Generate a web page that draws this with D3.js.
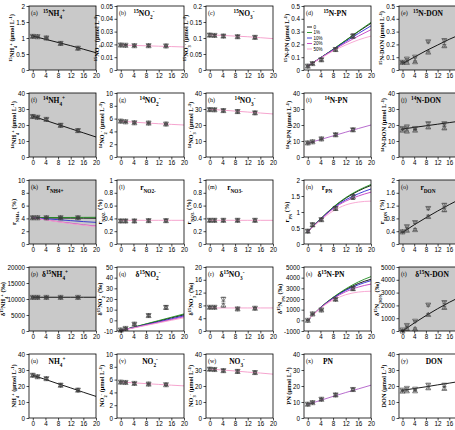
<!DOCTYPE html>
<html>
<head>
<meta charset="utf-8">
<script src="https://cdn.jsdelivr.net/npm/d3@7"></script>
<style>
  body { margin: 0; background: #fff; }
  text { fill: #000; }
</style>
</head>
<body>
<svg width="455" height="430"></svg>
<script>
// sampling times (h) and times at which model curves were read
const sampleTimes = [0, 1.5, 4.3, 8.8, 14.3];
const modelTimes = [0, 4, 8, 12, 16, 20];
const xTicks = [0, 4, 8, 12, 16, 20];
const scenarioNames = ["0", "1%", "10%", "20%", "50%"];

// y tick sets
const ticks2 = [0, 0.5, 1, 1.5, 2];
const ticks005 = [0, 0.01, 0.02, 0.03, 0.04, 0.05];
const ticks02 = [0, 0.05, 0.1, 0.15, 0.2];
const ticks05 = [0, 0.1, 0.2, 0.3, 0.4, 0.5];
const ticks40 = [0, 10, 20, 30, 40];
const ticks10 = [0, 2, 4, 6, 8, 10];
const ticks1 = [0, 0.2, 0.4, 0.6, 0.8, 1];
const ticks2b = [0, 0.4, 0.8, 1.2, 1.6, 2];
const ticks20000 = [0, 5000, 10000, 15000, 20000];
const ticks50 = [-10, 0, 10, 20, 30, 40, 50];
const ticks20 = [0, 4, 8, 12, 16, 20];
const ticks5000s = [-1000, 0, 1000, 2000, 3000, 4000, 5000];
const ticks5000 = [0, 1000, 2000, 3000, 4000, 5000];

// row 1: 15N pools
const aObs = [1.05, 1.04, 1.0, 0.83, 0.68];
const aErr = [0.03, 0.02, 0.03, 0.04, 0.03];
const aFit = [1.06, 0.96, 0.86, 0.76, 0.65, 0.54];
const bObs = [0.0195, 0.0193, 0.019, 0.019, 0.0188];
const bErr = [0.0008, 0.0006, 0.0007, 0.0008, 0.0008];
const bFit = [0.0196, 0.0192, 0.0189, 0.0186, 0.0183, 0.018];
const cObs = [0.109, 0.108, 0.106, 0.104, 0.102];
const cErr = [0.004, 0.003, 0.004, 0.004, 0.004];
const cFit = [0.11, 0.108, 0.106, 0.104, 0.101, 0.098];
const dObs = [0.03, 0.05, 0.08, 0.16, 0.265];
const dErr = [0.008, 0.008, 0.01, 0.012, 0.015];
const dFits = [
  [0.03, 0.095, 0.16, 0.23, 0.3, 0.365],
  [0.03, 0.095, 0.162, 0.232, 0.303, 0.372],
  [0.03, 0.094, 0.158, 0.222, 0.285, 0.345],
  [0.03, 0.093, 0.155, 0.212, 0.265, 0.315],
  [0.03, 0.091, 0.148, 0.195, 0.235, 0.265]
];
const eUp = [0.06, 0.06, 0.065, 0.14, 0.19];
const eDown = [0.06, 0.085, 0.1, 0.22, 0.23];
const eErr = [0.005, 0.006, 0.006, 0.008, 0.01];
const eFit = [0.05, 0.1, 0.15, 0.195, 0.24, 0.28];

// row 2: 14N pools
const fObs = [25.3, 24.8, 23.5, 19.8, 16.5];
const fErr = [0.8, 0.6, 0.7, 0.9, 0.8];
const fFit = [25.5, 22.9, 20.3, 17.7, 15.1, 12.5];
const gObs = [5.6, 5.5, 5.35, 5.3, 5.15];
const gErr = [0.15, 0.12, 0.15, 0.15, 0.15];
const gFit = [5.6, 5.45, 5.32, 5.2, 5.1, 5.0];
const hObs = [29.6, 29.5, 29.0, 28.4, 27.6];
const hErr = [0.8, 0.7, 0.8, 0.9, 0.8];
const hFit = [29.8, 29.3, 28.7, 28.1, 27.5, 26.9];
const iObs = [8.8, 9.5, 11.3, 13.9, 17.0];
const iErr = [0.6, 0.5, 0.6, 0.8, 0.8];
const iFit = [8.6, 10.9, 13.2, 15.5, 17.8, 20.0];
const jUp = [16.8, 16.2, 16.8, 18.8, 18.2];
const jDown = [17.8, 18.8, 17.8, 20.8, 20.8];
const jErr = [0.6, 0.6, 0.6, 0.8, 0.8];
const jFit = [17.5, 18.5, 19.5, 20.5, 21.5, 22.5];

// row 3: atom % excess
const kObs = [4.1, 4.1, 4.1, 4.1, 4.1];
const kErr = [0.15, 0.12, 0.15, 0.15, 0.15];
const kFits = [
  [4.1, 4.08, 4.06, 4.05, 4.04, 4.03],
  [4.1, 4.12, 4.14, 4.15, 4.16, 4.17],
  [4.1, 3.95, 3.8, 3.65, 3.5, 3.38],
  [4.1, 3.8, 3.5, 3.25, 3.0, 2.8],
  [4.1, 3.78, 3.46, 3.18, 2.93, 2.72]
];
const lObs = [0.36, 0.36, 0.36, 0.365, 0.365];
const lErr = [0.02, 0.02, 0.02, 0.02, 0.02];
const lFit = [0.37, 0.37, 0.37, 0.37, 0.37, 0.37];
const mObs = [0.37, 0.37, 0.37, 0.37, 0.37];
const mErr = [0.02, 0.02, 0.02, 0.02, 0.02];
const mFit = [0.37, 0.37, 0.37, 0.37, 0.37, 0.37];
const nObs = [0.4, 0.6, 0.76, 1.11, 1.47];
const nErr = [0.04, 0.05, 0.04, 0.05, 0.07];
const nFits = [
  [0.38, 0.78, 1.14, 1.43, 1.66, 1.83],
  [0.38, 0.78, 1.15, 1.45, 1.68, 1.86],
  [0.38, 0.77, 1.12, 1.38, 1.57, 1.72],
  [0.38, 0.76, 1.1, 1.34, 1.5, 1.62],
  [0.38, 0.74, 1.03, 1.22, 1.31, 1.34]
];
const oUp = [0.38, 0.43, 0.45, 0.86, 1.07];
const oDown = [0.38, 0.54, 0.67, 1.11, 1.21];
const oErr = [0.02, 0.03, 0.03, 0.04, 0.05];
const oFit = [0.36, 0.6, 0.82, 1.03, 1.23, 1.42];

// row 4: delta 15N
const pObs = [10500, 10500, 10500, 10500, 10500];
const pErr = [250, 250, 250, 250, 250];
const pFit = [10550, 10550, 10550, 10550, 10550, 10550];
const qObs = [-9.1, -7.6, -3.6, 4.5, 12.1];
const qErr = [0.8, 0.8, 1, 1.2, 1.5];
const qFits = [
  [-9.5, -6.6, -3.6, -0.7, 2.3, 5.2],
  [-9.5, -6.4, -3.3, -0.2, 2.9, 6.0],
  [-9.5, -6.8, -4.1, -1.4, 1.4, 4.2],
  [-9.5, -7.0, -4.4, -1.9, 0.7, 3.3],
  [-9.5, -7.2, -4.8, -2.4, 0.0, 2.4]
];
const rUp = [7.4, 7.4, 8.1, 6.9, 7.1];
const rDown = [7.4, 7.4, 9.9, 6.9, 7.1];
const rErr = [0.3, 0.3, 0.6, 0.3, 0.3];
const rFit = [7.2, 7.2, 7.2, 7.2, 7.2, 7.2];
const sObs = [0, 600, 970, 1970, 2970];
const sErr = [60, 80, 80, 100, 150];
const sFits = [
  [0, 1200, 2120, 2880, 3450, 3850],
  [0, 1200, 2150, 2950, 3600, 4100],
  [0, 1180, 2080, 2800, 3330, 3720],
  [0, 1160, 2030, 2680, 3120, 3400],
  [0, 1120, 1900, 2400, 2650, 2730]
];
const tUp = [0, 200, 180, 1290, 1840];
const tDown = [75, 430, 760, 2020, 2220];
const tErr = [50, 60, 60, 80, 100];
const tFit = [0, 620, 1200, 1740, 2240, 2700];

// row 5: total pools
const uObs = [26.7, 25.8, 24.6, 20.5, 17.4];
const uErr = [0.8, 0.6, 0.7, 0.9, 0.8];
const uFit = [26.7, 24.1, 21.4, 18.8, 16.1, 13.5];
const vObs = [5.6, 5.55, 5.4, 5.3, 5.2];
const vErr = [0.15, 0.12, 0.15, 0.15, 0.15];
const vFit = [5.62, 5.5, 5.37, 5.25, 5.13, 5.02];
const wObs = [30.5, 30.3, 29.6, 29.1, 28.4];
const wErr = [0.8, 0.7, 0.8, 0.9, 0.8];
const wFit = [30.6, 30.0, 29.4, 28.7, 28.1, 27.4];
const xObs = [8.6, 9.6, 11.7, 14.4, 17.8];
const xErr = [0.6, 0.5, 0.6, 0.8, 0.8];
const xFit = [8.5, 11.0, 13.5, 15.9, 18.2, 20.5];
const yUp = [16.8, 17.0, 17.0, 18.9, 18.5];
const yDown = [17.4, 18.5, 18.0, 20.5, 20.5];
const yErr = [0.6, 0.6, 0.6, 0.8, 0.8];
const yFit = [17.3, 18.4, 19.5, 20.7, 21.8, 23.0];

// styling
const scenarioColors = ["#000000", "#1e8c1e", "#2a2ad0", "#c23bc2", "#f7a1cf"];
const pink = "#f49ac8", purple = "#b05cc8", black = "#000000";
const grayFill = "#c9c9c9";
const colLeft = [29, 117, 206, 304, 399];
const colWidth = [67, 67, 67, 67, 62];
const rowTop = [6, 93, 180, 267, 354];
const titleOffset = [25, 27, 38, 31, 29, 25, 33, 39, 32, 27, 26, 31, 29, 23, 29, 26, 31, 26, 27, 33, 28, 33, 31, 24, 35];
const ph = 64;

const single = (v, c) => [{ v, c }];
const multi = (fits) => fits.map((v, k) => ({ v, c: scenarioColors[k] }));

const panels = [
  { id: "a", title: "^{15}NH_{4}^{+}", ylab: "^{15}NH_{4}^{+} (μmol L^{-1})", ticks: ticks2, gray: true, up: aObs, down: aObs, err: aErr, lines: single(aFit, black) },
  { id: "b", title: "^{15}NO_{2}^{-}", ylab: "^{15}NO_{2}^{-} (μmol L^{-1})", ticks: ticks005, up: bObs, down: bObs, err: bErr, lines: single(bFit, pink) },
  { id: "c", title: "^{15}NO_{3}^{-}", ylab: "^{15}NO_{3}^{-} (μmol L^{-1})", ticks: ticks02, up: cObs, down: cObs, err: cErr, lines: single(cFit, pink) },
  { id: "d", title: "^{15}N-PN", ylab: "^{15}N-PN (μmol L^{-1})", ticks: ticks05, up: dObs, down: dObs, err: dErr, lines: multi(dFits), legend: true },
  { id: "e", title: "^{15}N-DON", ylab: "^{15}N-DON (μmol L^{-1})", ticks: ticks05, gray: true, up: eUp, down: eDown, err: eErr, lines: single(eFit, black) },
  { id: "f", title: "^{14}NH_{4}^{+}", ylab: "^{14}NH_{4}^{+} (μmol L^{-1})", ticks: ticks40, gray: true, up: fObs, down: fObs, err: fErr, lines: single(fFit, black) },
  { id: "g", title: "^{14}NO_{2}^{-}", ylab: "^{14}NO_{2}^{-} (μmol L^{-1})", ticks: ticks10, up: gObs, down: gObs, err: gErr, lines: single(gFit, pink) },
  { id: "h", title: "^{14}NO_{3}^{-}", ylab: "^{14}NO_{3}^{-} (μmol L^{-1})", ticks: ticks40, up: hObs, down: hObs, err: hErr, lines: single(hFit, pink) },
  { id: "i", title: "^{14}N-PN", ylab: "^{14}N-PN (μmol L^{-1})", ticks: ticks40, up: iObs, down: iObs, err: iErr, lines: single(iFit, purple) },
  { id: "j", title: "^{14}N-DON", ylab: "^{14}N-DON (μmol L^{-1})", ticks: ticks40, gray: true, up: jUp, down: jDown, err: jErr, lines: single(jFit, black) },
  { id: "k", title: "r_{NH4+}", ylab: "r_{NH4+} (%)", ticks: ticks10, gray: true, up: kObs, down: kObs, err: kErr, lines: multi(kFits) },
  { id: "l", title: "r_{NO2-}", ylab: "r_{NO2-} (%)", ticks: ticks1, up: lObs, down: lObs, err: lErr, lines: single(lFit, pink) },
  { id: "m", title: "r_{NO3-}", ylab: "r_{NO3-} (%)", ticks: ticks1, up: mObs, down: mObs, err: mErr, lines: single(mFit, pink) },
  { id: "n", title: "r_{PN}", ylab: "r_{PN} (%)", ticks: ticks2, up: nObs, down: nObs, err: nErr, lines: multi(nFits) },
  { id: "o", title: "r_{DON}", ylab: "r_{DON} (%)", ticks: ticks2b, gray: true, up: oUp, down: oDown, err: oErr, lines: single(oFit, black) },
  { id: "p", title: "δ^{15}NH_{4}^{+}", ylab: "δ^{15}NH_{4}^{+} (‰)", ticks: ticks20000, gray: true, up: pObs, down: pObs, err: pErr, lines: single(pFit, black) },
  { id: "q", title: "δ^{15}NO_{2}^{-}", ylab: "δ^{15}NO_{2}^{-} (‰)", ticks: ticks50, up: qObs, down: qObs, err: qErr, lines: multi(qFits) },
  { id: "r", title: "δ^{15}NO_{3}^{-}", ylab: "δ^{15}NO_{3}^{-} (‰)", ticks: ticks20, up: rUp, down: rDown, err: rErr, lines: single(rFit, pink) },
  { id: "s", title: "δ^{15}N-PN", ylab: "δ^{15}N_{PN} (‰)", ticks: ticks5000s, up: sObs, down: sObs, err: sErr, lines: multi(sFits) },
  { id: "t", title: "δ^{15}N-DON", ylab: "δ^{15}N_{DON} (‰)", ticks: ticks5000, gray: true, up: tUp, down: tDown, err: tErr, lines: single(tFit, black) },
  { id: "u", title: "NH_{4}^{+}", ylab: "NH_{4}^{+} (μmol L^{-1})", ticks: ticks40, up: uObs, down: uObs, err: uErr, lines: single(uFit, black) },
  { id: "v", title: "NO_{2}^{-}", ylab: "NO_{2}^{-} (μmol L^{-1})", ticks: ticks10, up: vObs, down: vObs, err: vErr, lines: single(vFit, pink) },
  { id: "w", title: "NO_{3}^{-}", ylab: "NO_{3}^{-} (μmol L^{-1})", ticks: ticks40, up: wObs, down: wObs, err: wErr, lines: single(wFit, pink) },
  { id: "x", title: "PN", ylab: "PN (μmol L^{-1})", ticks: ticks40, up: xObs, down: xObs, err: xErr, lines: single(xFit, purple) },
  { id: "y", title: "DON", ylab: "DON (μmol L^{-1})", ticks: ticks40, up: yUp, down: yDown, err: yErr, lines: single(yFit, black) }
];

// tiny markup: ^{..} superscript, _{..} subscript
function rich(sel, s) {
  const re = /([\^_])\{([^}]*)\}|([^\^_]+)/g;
  let m;
  while ((m = re.exec(s))) {
    if (m[3]) sel.append("tspan").text(m[3]);
    else sel.append("tspan")
      .attr("baseline-shift", m[1] === "^" ? "super" : "sub")
      .attr("font-size", "70%")
      .text(m[2]);
  }
  return sel;
}

const svg = d3.select("svg");
const serif = "'Liberation Serif', 'DejaVu Serif', serif";
const sans = "'Liberation Sans', Arial, sans-serif";
const upSym = d3.symbol(d3.symbolTriangle, 11)();

panels.forEach((p, i) => {
  const col = i % 5, row = Math.floor(i / 5);
  const pw = colWidth[col];
  const g = svg.append("g").attr("transform", `translate(${colLeft[col]},${rowTop[row]})`);
  const x = d3.scaleLinear().domain([-1.2, 20]).range([0, pw]);
  const y = d3.scaleLinear().domain(d3.extent(p.ticks)).range([ph, 0]);

  if (p.gray) g.append("rect").attr("width", pw).attr("height", ph).attr("fill", grayFill);

  const clipId = "clip-" + p.id;
  g.append("clipPath").attr("id", clipId)
    .append("rect").attr("width", pw).attr("height", ph);

  const line = d3.line()
    .x((d, k) => x(modelTimes[k]))
    .y(d => y(d))
    .curve(d3.curveMonotoneX);

  g.append("g").attr("clip-path", `url(#${clipId})`)
    .selectAll("path")
    .data(p.lines)
    .join("path")
    .attr("d", d => line(d.v))
    .attr("fill", "none")
    .attr("stroke", d => d.c)
    .attr("stroke-width", 0.9);

  // observations: two replicates as up / down triangles with error bars
  const obs = sampleTimes.map((t, k) => ({ t, up: p.up[k], down: p.down[k], e: p.err[k] }));
  const mk = g.append("g").attr("fill", "none").attr("stroke", "#3c3c3c").attr("stroke-width", 0.6);
  obs.forEach(o => {
    const cx = x(o.t);
    [o.up, o.down].forEach(v => {
      mk.append("line").attr("x1", cx).attr("x2", cx).attr("y1", y(v - o.e)).attr("y2", y(v + o.e));
      mk.append("line").attr("x1", cx - 2).attr("x2", cx + 2).attr("y1", y(v - o.e)).attr("y2", y(v - o.e));
      mk.append("line").attr("x1", cx - 2).attr("x2", cx + 2).attr("y1", y(v + o.e)).attr("y2", y(v + o.e));
    });
    mk.append("path").attr("d", upSym).attr("transform", `translate(${cx},${y(o.up) + 0.6})`);
    mk.append("path").attr("d", upSym).attr("transform", `translate(${cx},${y(o.down) - 0.6}) rotate(180)`);
  });

  g.append("rect").attr("width", pw).attr("height", ph)
    .attr("fill", "none").attr("stroke", "#000").attr("stroke-width", 0.8);

  // last column runs off the page edge, as in the source figure
  const maxX = 455 - colLeft[col] - 4;
  const xa = g.append("g").attr("transform", `translate(0,${ph})`)
    .call(d3.axisBottom(x).tickValues(xTicks.filter(t => x(t) < maxX)).tickSize(2.5).tickPadding(1.5));
  const ya = g.append("g")
    .call(d3.axisLeft(y).tickValues(p.ticks).tickSize(2.5).tickPadding(1.5).tickFormat(d => String(d)));
  [xa, ya].forEach(a => {
    a.select(".domain").remove();
    a.selectAll("line").attr("stroke-width", 0.7);
    a.selectAll("text").attr("font-family", sans).attr("font-size", 6.3);
  });

  const bb = ya.node().getBBox();
  rich(g.append("text")
    .attr("transform", `translate(${bb.x - 2},${ph / 2}) rotate(-90)`)
    .attr("text-anchor", "middle")
    .attr("font-family", serif)
    .attr("font-weight", "bold")
    .attr("font-size", 6.3), p.ylab);

  g.append("text").attr("x", 2).attr("y", 8.5)
    .attr("font-family", serif).attr("font-size", 6)
    .text(`(${p.id})`);

  rich(g.append("text")
    .attr("x", titleOffset[i]).attr("y", 9.5)
    .attr("text-anchor", "middle")
    .attr("font-family", serif)
    .attr("font-weight", "bold")
    .attr("font-size", 7.5), p.title);

  if (p.legend) {
    const lg = g.append("g").attr("transform", "translate(3,21)");
    scenarioNames.forEach((name, k) => {
      const r = lg.append("g").attr("transform", `translate(0,${k * 5.5})`);
      r.append("line").attr("x1", 0).attr("x2", 5).attr("stroke", scenarioColors[k]).attr("stroke-width", 0.9);
      r.append("text").attr("x", 6.5).attr("y", 1.6)
        .attr("font-family", sans).attr("font-size", 4.5).text(name);
    });
  }
});
</script>
</body>
</html>
